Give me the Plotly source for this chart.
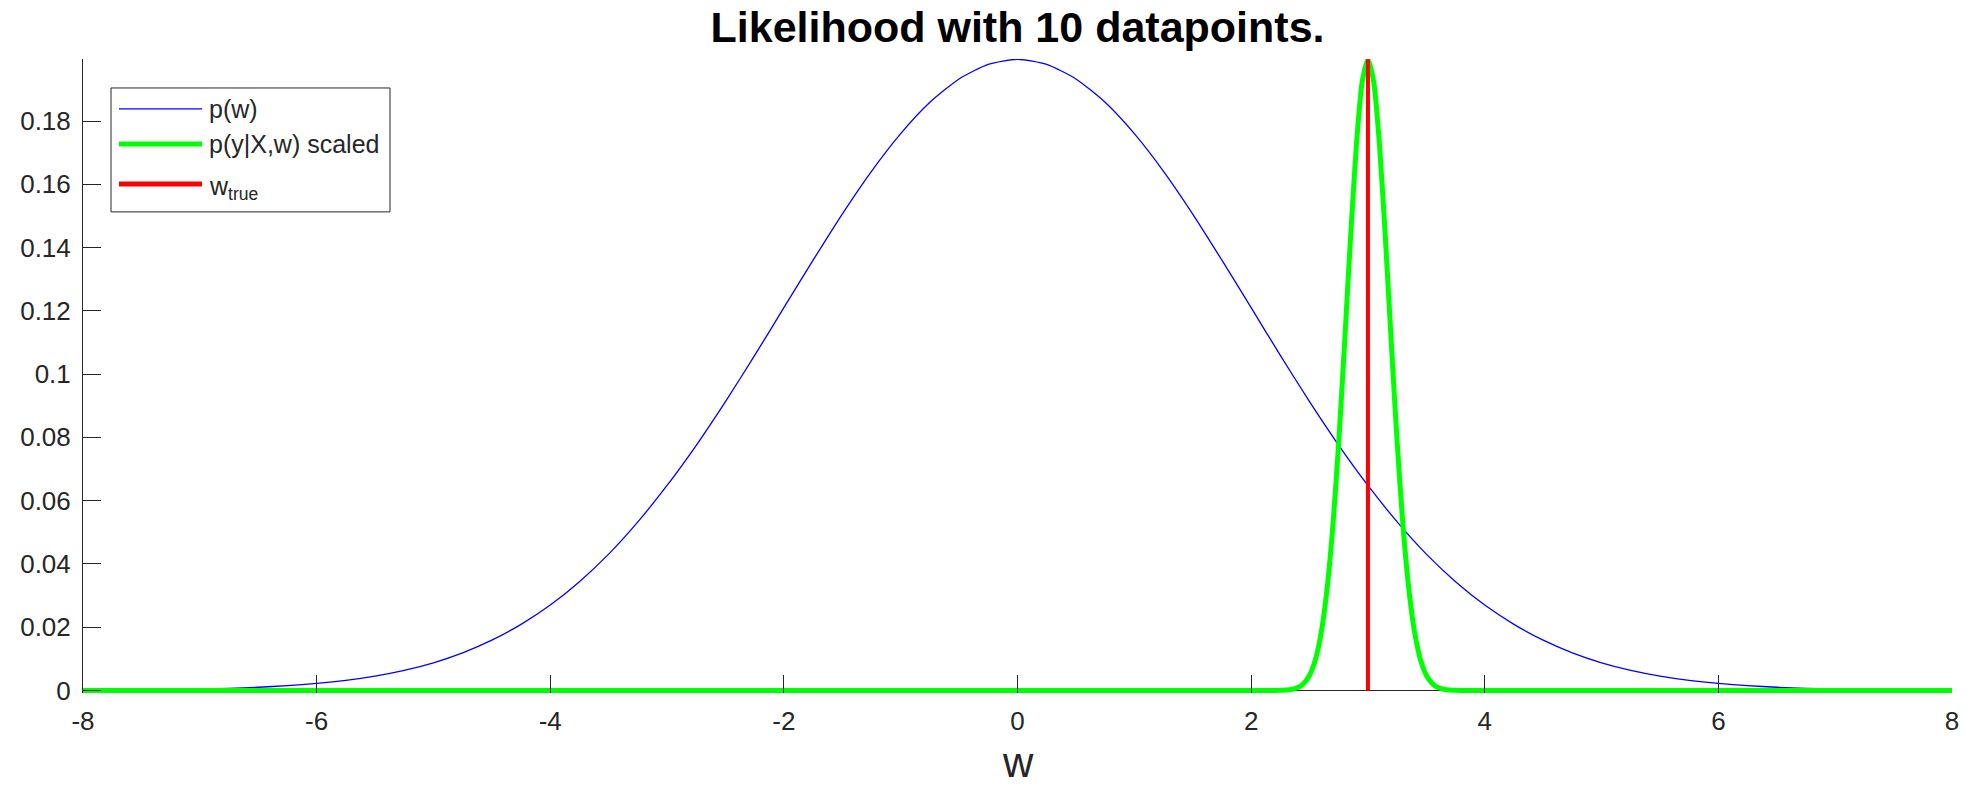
import plotly.graph_objects as go

# ---------------- data ----------------
prior_w = [-8.0, -7.75, -7.5, -7.25, -7.0, -6.75, -6.5, -6.25, -6.0, -5.75, -5.5, -5.25,
           -5.0, -4.75, -4.5, -4.25, -4.0, -3.75, -3.5, -3.25, -3.0, -2.75, -2.5, -2.25,
           -2.0, -1.75, -1.5, -1.25, -1.0, -0.75, -0.5, -0.25, 0.0,
           0.25, 0.5, 0.75, 1.0, 1.25, 1.5, 1.75, 2.0, 2.25, 2.5, 2.75, 3.0, 3.25, 3.5,
           3.75, 4.0, 4.25, 4.5, 4.75, 5.0, 5.25, 5.5, 5.75, 6.0, 6.25, 6.5, 6.75, 7.0,
           7.25, 7.5, 7.75, 8.0]
prior_p = [0.00007, 0.00011, 0.00018, 0.00028, 0.00044, 0.00067, 0.00101, 0.00151,
           0.00222, 0.00320, 0.00455, 0.00636, 0.00876, 0.0119, 0.0159, 0.0209, 0.0270,
           0.0344, 0.0431, 0.0533, 0.0648, 0.0775, 0.0913, 0.1059, 0.1210, 0.1360, 0.1506,
           0.1641, 0.1760, 0.1859, 0.1933, 0.1979, 0.1995,
           0.1979, 0.1933, 0.1859, 0.1760, 0.1641, 0.1506, 0.1360, 0.1210, 0.1059, 0.0913,
           0.0775, 0.0648, 0.0533, 0.0431, 0.0344, 0.0270, 0.0209, 0.0159, 0.0119, 0.00876,
           0.00636, 0.00455, 0.00320, 0.00222, 0.00151, 0.00101, 0.00067, 0.00044, 0.00028,
           0.00018, 0.00011, 0.00007]

lik_w = [-8.0, 2.2, 2.25, 2.3, 2.35, 2.4, 2.45, 2.5, 2.55, 2.6, 2.65, 2.7, 2.75, 2.8, 2.85,
         2.9, 2.95, 3.0, 3.05, 3.1, 3.15, 3.2, 3.25, 3.3, 3.35, 3.4, 3.45, 3.5, 3.55, 3.6,
         3.65, 3.7, 3.75, 3.8, 8.0]
lik_p = [0.0, 0.0, 0.00004, 0.00013, 0.00036, 0.00093, 0.0022, 0.0048, 0.0097, 0.0183,
         0.0321, 0.0521, 0.0785, 0.1098, 0.1426, 0.1718, 0.1922, 0.1995, 0.1922, 0.1718,
         0.1426, 0.1098, 0.0785, 0.0521, 0.0321, 0.0183, 0.0097, 0.0048, 0.0022, 0.00093,
         0.00036, 0.00013, 0.00004, 0.0, 0.0]

w_true = 3.0
w_true_top = 0.1995

x_ticks = [-8, -6, -4, -2, 0, 2, 4, 6, 8]
x_tick_labels = ["-8", "-6", "-4", "-2", "0", "2", "4", "6", "8"]
y_ticks = [0, 0.02, 0.04, 0.06, 0.08, 0.1, 0.12, 0.14, 0.16, 0.18]
y_tick_labels = ["0", "0.02", "0.04", "0.06", "0.08", "0.1", "0.12", "0.14", "0.16", "0.18"]

legend_labels = ["p(w)", "p(y|X,w) scaled", "w<sub>true</sub>"]
title_text = "Likelihood with 10 datapoints."
x_label = "w"

# ---------------- style ----------------
FONT = "Liberation Sans, Arial, Helvetica, sans-serif"
AX = "#262626"
BLUE, GREEN, RED = "#0000ff", "#00ff00", "#ff0000"
W, H = 1972, 789
PL, PR, PT, PB = 83, 1952, 59, 693.5   # plot area in pixels

fig = go.Figure()
fig.add_trace(go.Scatter(x=prior_w, y=prior_p, mode="lines",
                         line=dict(color=BLUE, width=1.3, shape="spline", smoothing=0.6),
                         name=legend_labels[0], showlegend=False))
fig.add_trace(go.Scatter(x=lik_w, y=lik_p, mode="lines",
                         line=dict(color=GREEN, width=5, shape="spline", smoothing=0.6),
                         name="p(y|X,w) scaled", showlegend=False))
fig.add_trace(go.Scatter(x=[w_true, w_true], y=[0, w_true_top], mode="lines",
                         line=dict(color=RED, width=4),
                         name="w_true", showlegend=False))


def px_x(p):
    return (p - PL) / (PR - PL)


def px_y(p):
    return (PB - p) / (PB - PT)


# custom legend (MATLAB style)
shapes = [dict(type="rect", xref="paper", yref="paper",
               x0=px_x(111), x1=px_x(390), y0=px_y(212), y1=px_y(88),
               line=dict(color=AX, width=1), fillcolor="white", layer="above")]
rows = [109, 144, 184]
cols = [BLUE, GREEN, RED]
wids = [1.3, 5, 5]
annotations = []
for r, c, lw, lab in zip(rows, cols, wids, legend_labels):
    shapes.append(dict(type="line", xref="paper", yref="paper",
                       x0=px_x(119), x1=px_x(202), y0=px_y(r), y1=px_y(r),
                       line=dict(color=c, width=lw), layer="above"))
    annotations.append(dict(xref="paper", yref="paper", x=px_x(207),
                            y=px_y(r + (4 if "sub" in lab else 0)),
                            text=lab, showarrow=False, xanchor="left", yanchor="middle",
                            font=dict(family=FONT, size=25, color=AX)))

# x-axis label (placed as annotation so it can sit low in the margin)
annotations.append(dict(xref="paper", yref="paper", x=0.5, y=px_y(788),
                        text=x_label, showarrow=False, xanchor="center", yanchor="bottom",
                        borderpad=0, font=dict(family=FONT, size=42, color=AX)))

fig.update_layout(
    width=W, height=H,
    margin=dict(l=PL, r=W - PR, t=PT, b=H - PB, pad=0),
    paper_bgcolor="white", plot_bgcolor="white",
    showlegend=False,
    title=dict(text="<b>" + title_text + "</b>", x=(PL + PR) / 2 / W, xanchor="center",
               y=1 - 27 / H, yanchor="middle", yref="container",
               font=dict(family=FONT, size=43, color="black")),
    shapes=shapes, annotations=annotations,
    xaxis=dict(range=[-8, 8], tickvals=x_ticks, ticktext=x_tick_labels,
               ticks="inside", ticklen=18, tickwidth=1, tickcolor=AX,
               showline=False, showgrid=False, zeroline=False, automargin=False,
               tickfont=dict(family=FONT, size=26, color=AX), ticklabelstandoff=10),
    yaxis=dict(range=[-0.0008, 0.1996], tickvals=y_ticks, ticktext=y_tick_labels,
               ticks="inside", ticklen=18, tickwidth=1, tickcolor=AX,
               showline=True, linecolor=AX, linewidth=1, mirror=False, automargin=False,
               showgrid=False, zeroline=True, zerolinecolor=AX, zerolinewidth=1,
               tickfont=dict(family=FONT, size=26, color=AX), ticklabelstandoff=6),
)

fig.write_html("out.html")
